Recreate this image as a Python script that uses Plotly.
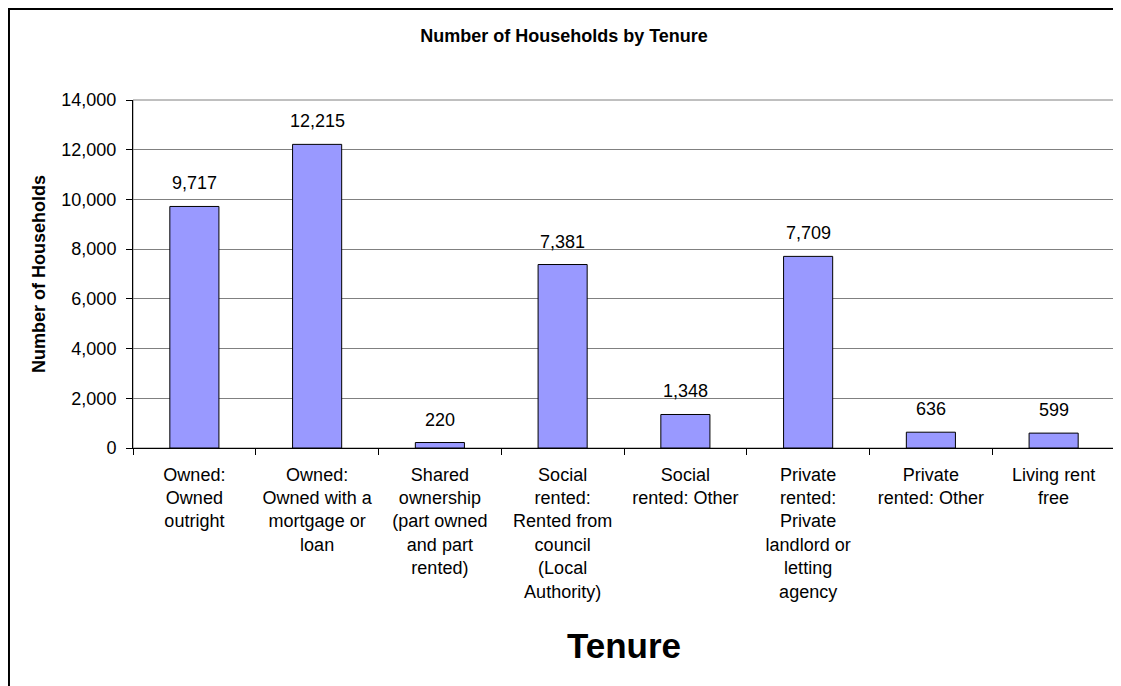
import plotly.graph_objects as go

categories = [
    "Owned: Owned outright",
    "Owned: Owned with a mortgage or loan",
    "Shared ownership (part owned and part rented)",
    "Social rented: Rented from council (Local Authority)",
    "Social rented: Other",
    "Private rented: Private landlord or letting agency",
    "Private rented: Other",
    "Living rent free",
]
tick_labels = [
    "Owned:<br>Owned<br>outright",
    "Owned:<br>Owned with a<br>mortgage or<br>loan",
    "Shared<br>ownership<br>(part owned<br>and part<br>rented)",
    "Social<br>rented:<br>Rented from<br>council<br>(Local<br>Authority)",
    "Social<br>rented: Other",
    "Private<br>rented:<br>Private<br>landlord or<br>letting<br>agency",
    "Private<br>rented: Other",
    "Living rent<br>free",
]
households = [9717, 12215, 220, 7381, 1348, 7709, 636, 599]
y_ticks = [0, 2000, 4000, 6000, 8000, 10000, 12000, 14000]

FONT = "Arial, Liberation Sans, sans-serif"

fig = go.Figure()
fig.add_trace(go.Bar(
    x=categories, y=households,
    marker=dict(color="#9999FF", line=dict(color="black", width=1)),
    hoverinfo="x+y",
))

for c, v in zip(categories, households):
    fig.add_annotation(x=c, y=v, xref="x", yref="y", text=f"{v:,}",
                       showarrow=False, yanchor="bottom", yshift=11,
                       font=dict(family=FONT, size=18, color="black"))

# plot area border (gray)
fig.add_shape(type="rect", xref="paper", yref="paper", x0=0, x1=1, y0=0, y1=1,
              line=dict(color="#808080", width=1), layer="below")
# outer chart frame
fig.add_shape(type="rect", xref="paper", yref="paper",
              x0=-0.1263, x1=1.08, y0=-1.0, y1=1.2615,
              line=dict(color="black", width=2))

fig.update_layout(
    width=1113, height=678,
    margin=dict(l=125, r=6, t=92, b=238),
    paper_bgcolor="white", plot_bgcolor="white",
    bargap=0.6, showlegend=False,
    font=dict(family=FONT, color="black"),
    title=dict(text="<b>Number of Households by Tenure</b>", x=556 / 1113, xanchor="center",
               y=1 - 28 / 678, yanchor="middle", xref="container", yref="container",
               font=dict(family=FONT, size=18, color="black")),
    xaxis=dict(
        tickvals=categories, ticktext=tick_labels, tickson="boundaries",
        ticks="outside", ticklen=6, tickcolor="black", tickwidth=1,
        showline=True, linecolor="black", linewidth=1,
        tickfont=dict(family=FONT, size=18, color="black"),
        ticklabelstandoff=10,
        showgrid=False, zeroline=False,
        title=dict(text="<b>Tenure</b>", font=dict(family=FONT, size=35, color="black"), standoff=32),
    ),
    yaxis=dict(
        range=[0, 14000], tickvals=y_ticks, tickformat=",d",
        ticks="outside", ticklen=6, tickcolor="black", tickwidth=1,
        showline=True, linecolor="black", linewidth=1,
        showgrid=True, gridcolor="#808080", gridwidth=1, zeroline=False,
        tickfont=dict(family=FONT, size=18, color="black"),
        ticklabelstandoff=6,
        title=dict(text="<b>Number of Households</b>", font=dict(family=FONT, size=18, color="black"), standoff=11),
    ),
)

fig.write_html("out.html")
